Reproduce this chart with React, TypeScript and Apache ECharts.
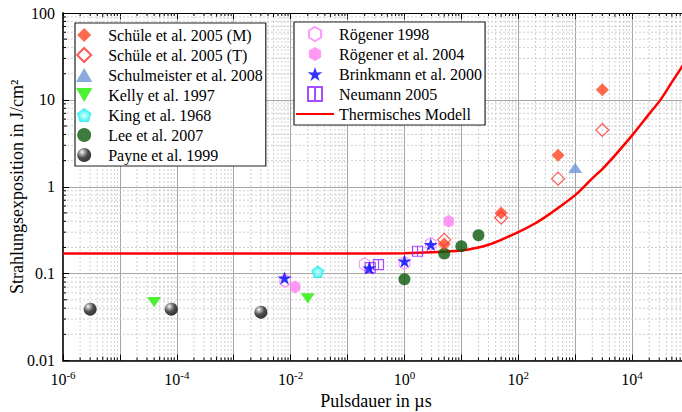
import React, { useEffect, useRef } from 'react';
import * as echarts from 'echarts';

const FONT = '"Liberation Serif", "Times New Roman", serif';

// ---- data (x: Pulsdauer in µs, y: Strahlungsexposition in J/cm²) ----
const schuleMX = [5, 50, 500, 3000];
const schuleMY = [0.22, 0.5, 2.3, 13.1];
const schuleTX = [5, 50, 500, 3000];
const schuleTY = [0.245, 0.44, 1.24, 4.5];
const schulmeisterX = [1000];
const schulmeisterY = [1.65];
const kellyX = [4e-5, 0.02];
const kellyY = [0.047, 0.052];
const kingX = [0.03];
const kingY = [0.105];
const leeX = [1, 5, 10, 20];
const leeY = [0.086, 0.17, 0.207, 0.277];
const payneX = [3e-6, 8e-5, 0.003];
const payneY = [0.039, 0.039, 0.036];
const rogener1998X = [0.008, 0.2, 1, 2.9];
const rogener1998Y = [0.083, 0.128, 0.133, 0.22];
const rogener2004X = [0.012, 6];
const rogener2004Y = [0.07, 0.4];
const brinkmannX = [0.0078, 0.24, 1, 2.9];
const brinkmannY = [0.089, 0.116, 0.139, 0.216];
const neumannX = [0.25, 0.35, 1.7];
const neumannY = [0.117, 0.127, 0.181];
const modelX = [1e-6, 1e-3, 0.1, 1, 3, 10, 20, 30, 50, 100, 200, 300, 500, 1000, 2000, 3000, 5000, 10000, 20000, 31500, 50000, 100000];
const modelY = [0.17, 0.17, 0.17, 0.172, 0.176, 0.185, 0.2, 0.215, 0.245, 0.3, 0.38, 0.45, 0.57, 0.8, 1.25, 1.6, 2.3, 3.9, 6.9, 10, 16, 32];

const yTickLabels = ['0.01', '0.1', '1', '10', '100'];
const X_MIN_EXP = -6;
const X_MAX_EXP = 5;
const Y_MIN_EXP = -2;
const Y_MAX_EXP = 2;

const NAMES = [
  'Schüle et al. 2005 (M)',
  'Schüle et al. 2005 (T)',
  'Schulmeister et al. 2008',
  'Kelly et al. 1997',
  'King et al. 1968',
  'Lee et al. 2007',
  'Payne et al. 1999',
  'Rögener 1998',
  'Rögener et al. 2004',
  'Brinkmann et al. 2000',
  'Neumann 2005',
  'Thermisches Modell',
];

const STAR = 'path://M50,0 L61.8,35.1 L97.6,34.5 L68.2,55.9 L79.4,90.5 L50,69.1 L20.6,90.5 L31.8,55.9 L2.4,34.5 L38.2,35.1 Z';
const HEX = 'path://M50,0 L93.3,25 L93.3,75 L50,100 L6.7,75 L6.7,25 Z';
const PENT = 'path://M50,0 L97.6,34.5 L79.4,90.5 L20.6,90.5 L2.4,34.5 Z';
const NEUMANN = 'path://M0,0 L100,0 L100,100 L0,100 Z M50,0 L50,100';
const DIAMOND = 'path://M50,0 L100,50 L50,100 L0,50 Z';
const TRI_UP = 'path://M70,0 L140,120 L0,120 Z';
const TRI_DOWN = 'path://M0,0 L140,0 L70,120 Z';

function pts(xs: number[], ys: number[]) {
  return xs.map((x, i) => [Math.log10(x), Math.log10(ys[i])]);
}

function scatter(name: string, xs: number[], ys: number[], extra: any) {
  return {
    type: 'scatter',
    name,
    data: pts(xs, ys),
    z: 3,
    symbolKeepAspect: true,
    ...extra,
  };
}

const gridRender = (params: any, api: any) => {
  const children: any[] = [];
  const minor = { stroke: '#c4c4c4', lineWidth: 0.8, lineDash: [2, 2] };
  const tick = { stroke: '#000', lineWidth: 1 };
  const yb = api.coord([X_MIN_EXP, Y_MIN_EXP])[1];
  const yt = api.coord([X_MIN_EXP, Y_MAX_EXP])[1];
  const xl = api.coord([X_MIN_EXP, Y_MIN_EXP])[0];
  const xr = api.coord([X_MAX_EXP, Y_MIN_EXP])[0];
  for (let k = X_MIN_EXP; k < X_MAX_EXP; k++) {
    for (let m = 2; m <= 9; m++) {
      const px = api.coord([k + Math.log10(m), Y_MIN_EXP])[0];
      children.push({ type: 'line', shape: { x1: px, y1: yt, x2: px, y2: yb }, style: minor, silent: true });
      const len = m === 5 ? 4 : 3;
      children.push({ type: 'line', shape: { x1: px, y1: yb, x2: px, y2: yb - len }, style: tick, silent: true });
      children.push({ type: 'line', shape: { x1: px, y1: yt, x2: px, y2: yt + len }, style: tick, silent: true });
    }
  }
  for (let k = Y_MIN_EXP; k < Y_MAX_EXP; k++) {
    for (let m = 2; m <= 9; m++) {
      const py = api.coord([X_MIN_EXP, k + Math.log10(m)])[1];
      children.push({ type: 'line', shape: { x1: xl, y1: py, x2: xr, y2: py }, style: minor, silent: true });
      const len = m === 5 ? 4 : 3;
      children.push({ type: 'line', shape: { x1: xl, y1: py, x2: xl + len, y2: py }, style: tick, silent: true });
    }
  }
  return { type: 'group', children };
};

const legendText = { fontFamily: FONT, fontSize: 16, color: '#000' };

const legendBase = {
  orient: 'vertical',
  itemWidth: 38,
  itemHeight: 14,
  itemGap: 4,
  padding: [4, 3, 3, 1],
  borderColor: '#222',
  borderWidth: 1.2,
  backgroundColor: '#fff',
  textStyle: legendText,
  selectedMode: false,
  symbolKeepAspect: true,
};

const option: any = {
  animation: false,
  backgroundColor: '#fff',
  grid: { left: 63, top: 13, right: -7, bottom: 51.5, containLabel: false, outerBoundsMode: 'none' },
  xAxis: [
    {
      type: 'value',
      min: X_MIN_EXP,
      max: X_MAX_EXP,
      interval: 1,
      name: 'Pulsdauer in µs',
      nameLocation: 'middle',
      nameGap: 31,
      nameMoveOverlap: false,
      nameTextStyle: { fontFamily: FONT, fontSize: 18, color: '#000' },
      axisLine: { onZero: false, lineStyle: { color: '#000', width: 1.5 } },
      axisTick: { inside: true, length: 6, lineStyle: { color: '#000' } },
      splitLine: { show: true, lineStyle: { color: '#a6a6a6', width: 1 } },
      axisLabel: {
        margin: 9,
        formatter: (v: number) => (Math.round(v) % 2 === 0 ? `{b|10}{s|${Math.round(v)}}` : ''),
        rich: {
          b: { fontFamily: FONT, fontSize: 16, color: '#000' },
          s: { fontFamily: FONT, fontSize: 11, color: '#000', padding: [0, 0, 9, 0] },
        },
      },
    },
    {
      type: 'value',
      position: 'top',
      min: X_MIN_EXP,
      max: X_MAX_EXP,
      interval: 1,
      axisLine: { onZero: false, lineStyle: { color: '#000', width: 1.2 } },
      axisTick: { inside: true, length: 6, lineStyle: { color: '#000' } },
      axisLabel: { show: false },
      splitLine: { show: false },
    },
  ],
  yAxis: [
    {
      type: 'value',
      min: Y_MIN_EXP,
      max: Y_MAX_EXP,
      interval: 1,
      name: 'Strahlungsexposition in J/cm²',
      nameLocation: 'middle',
      nameGap: 37,
      nameRotate: 90,
      nameMoveOverlap: false,
      nameTextStyle: { fontFamily: FONT, fontSize: 18, color: '#000' },
      axisLine: { show: true, onZero: false, lineStyle: { color: '#333', width: 2 } },
      axisTick: { show: true, inside: true, length: 6, lineStyle: { color: '#000' } },
      splitLine: { show: true, lineStyle: { color: '#a6a6a6', width: 1 } },
      axisLabel: {
        margin: 8,
        fontFamily: FONT,
        fontSize: 16,
        color: '#000',
        formatter: (v: number) => yTickLabels[Math.round(v) - Y_MIN_EXP] ?? '',
      },
    },
  ],
  legend: [
    { ...legendBase, data: NAMES.slice(0, 7), left: 75, top: 23 },
    {
      ...legendBase,
      data: [
        ...NAMES.slice(7, 11),
        { name: NAMES[11], itemStyle: { color: 'rgba(0,0,0,0)', borderWidth: 0, opacity: 0 } },
      ],
      left: 294,
      top: 22,
    },
  ],
  series: [
    {
      type: 'custom',
      name: 'grid',
      renderItem: gridRender,
      data: [[0, 0]],
      silent: true,
      z: 1,
      clip: false,
    },
    {
      type: 'line',
      name: NAMES[11],
      data: pts(modelX, modelY),
      symbol: 'none',
      smooth: 0.3,
      z: 2,
      lineStyle: { color: '#ff0000', width: 2.5 },
      itemStyle: { color: '#ff0000' },
    },
    scatter(NAMES[6], payneX, payneY, {
      symbol: 'circle',
      symbolSize: 13,
      itemStyle: {
        color: {
          type: 'radial', x: 0.35, y: 0.3, r: 0.75,
          colorStops: [
            { offset: 0, color: '#ffffff' },
            { offset: 0.2, color: '#a0a0a0' },
            { offset: 0.55, color: '#202020' },
            { offset: 1, color: '#000000' },
          ],
        },
      },
    }),
    scatter(NAMES[3], kellyX, kellyY, {
      symbol: TRI_DOWN, symbolSize: [14, 12],
      itemStyle: { color: '#22ee00' },
    }),
    scatter(NAMES[4], kingX, kingY, {
      symbol: PENT, symbolSize: 13,
      itemStyle: {
        color: {
          type: 'radial', x: 0.5, y: 0.55, r: 0.5,
          colorStops: [
            { offset: 0, color: '#d0ffff' },
            { offset: 0.5, color: '#60f6f6' },
            { offset: 1, color: '#00e6e6' },
          ],
        },
      },
    }),
    scatter(NAMES[7], rogener1998X, rogener1998Y, {
      symbol: HEX, symbolSize: [12, 13],
      itemStyle: { color: 'rgba(255,255,255,0)', borderColor: '#ff80ff', borderWidth: 1.2 },
    }),
    scatter(NAMES[8], rogener2004X, rogener2004Y, {
      symbol: HEX, symbolSize: [12, 13],
      itemStyle: { color: '#ff80f0' },
    }),
    scatter(NAMES[10], neumannX, neumannY, {
      symbol: NEUMANN, symbolSize: 10,
      itemStyle: { color: 'rgba(255,255,255,0)', borderColor: '#9020ff', borderWidth: 1.2 },
    }),
    scatter(NAMES[9], brinkmannX, brinkmannY, {
      symbol: STAR, symbolSize: 14,
      itemStyle: { color: '#0000ff' },
    }),
    scatter(NAMES[5], leeX, leeY, {
      symbol: 'circle', symbolSize: 12,
      itemStyle: { color: '#0b5a0b' },
    }),
    scatter(NAMES[0], schuleMX, schuleMY, {
      symbol: DIAMOND, symbolSize: 13,
      itemStyle: { color: '#ff4422' },
    }),
    scatter(NAMES[1], schuleTX, schuleTY, {
      symbol: DIAMOND, symbolSize: 13,
      itemStyle: { color: 'rgba(255,255,255,0)', borderColor: '#ff3030', borderWidth: 1.2 },
    }),
    scatter(NAMES[2], schulmeisterX, schulmeisterY, {
      symbol: TRI_UP, symbolSize: [14, 12],
      itemStyle: { color: '#6b96d6' },
    }),
  ],
};

export default function App() {
  const ref = useRef<HTMLDivElement>(null);
  useEffect(() => {
    document.body.style.margin = '0';
    const chart = echarts.init(ref.current!, null, { renderer: 'svg' });
    chart.setOption(option);
    return () => chart.dispose();
  }, []);
  return <div ref={ref} style={{ width: 682, height: 412, overflow: 'hidden' }} />;
}
